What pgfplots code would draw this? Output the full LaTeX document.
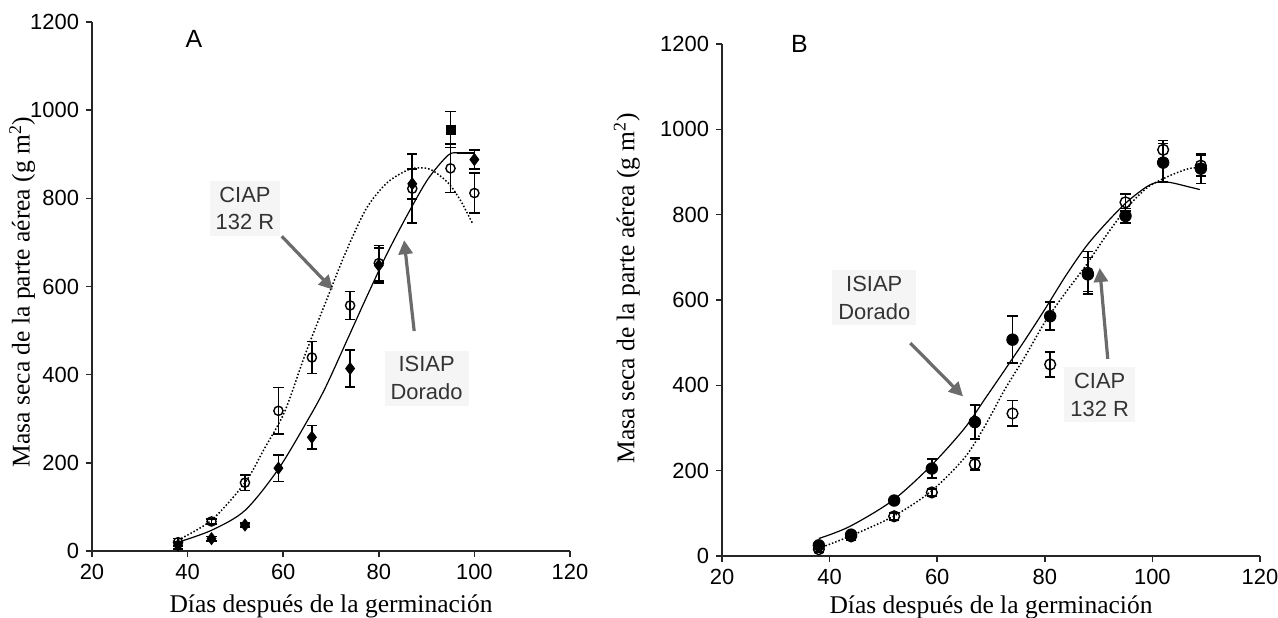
\documentclass[border=0pt]{standalone}
\usepackage{fontspec}
\setmainfont{Liberation Serif}
\setsansfont{Liberation Sans}
\usepackage{pgfplots}
\pgfplotsset{compat=1.18}
\usetikzlibrary{arrows.meta}

\definecolor{arrowgray}{gray}{0.42}
\definecolor{notegray}{gray}{0.2}

\tikzset{
  note/.style={font=\sffamily\fontsize{11}{13.8}\selectfont, text=notegray,
    align=center, fill=black!4, inner sep=3bp},
  pointer/.style={arrowgray, line width=1.6bp, -{Triangle[length=7bp,width=7bp]}},
}

\pgfplotsset{
  panel/.style={
    scale only axis,
    axis lines*=left,
    axis line style={black!85, line width=0.8bp},
    tick style={black!85, line width=0.8bp},
    tick align=outside,
    major tick length=3bp,
    xmin=20, xmax=120, ymin=0, ymax=1200,
    xtick={20,40,...,120},
    ytick={0,200,...,1200},
    /pgf/number format/1000 sep={},
    /pgf/number format/assume math mode=true,
    tick label style={font=\sffamily\fontsize{11}{13}\selectfont},
    label style={font=\fontsize{12.8}{15}\selectfont},
    xlabel={Días después de la germinación},
    ylabel={Masa seca de la parte aérea (g m\textsuperscript{2})},
    clip=false,
  },
  fitline/.style={black, line width=0.6bp, smooth, no markers},
  fitdot/.style={black, line width=0.75bp, densely dotted, smooth, no markers},
  ebars/.style={
    error bars/y dir=both, error bars/y explicit,
    error bars/error bar style={line width=0.8bp, black},
    error bars/error mark options={rotate=90, mark size=2.6bp, line width=0.8bp, black}},
  filledpts/.style={only marks, mark=*, mark size=2.6bp, black, ebars},
  openpts/.style={only marks, mark=o, mark size=2.3bp, black,
    mark options={fill=white, line width=0.7bp}, ebars},
}

\begin{document}
\begin{tikzpicture}
\path[use as bounding box] (0,0) rectangle (639bp,-309bp);

% ---------------- panel A ----------------
\begin{axis}[panel,
  at={(46bp,-275.5bp)}, anchor=south west,
  width=239bp, height=264.5bp,
  ylabel style={at={(axis description cs:-0.146,0.49)}, anchor=center},
  xlabel style={at={(axis description cs:0.5,-0.104)}, anchor=center},
]
  \node[note] at (axis cs:52,777) {CIAP\\132 R};
  \node[note] at (axis cs:90,392) {ISIAP\\Dorado};
  \draw[pointer] (axis cs:59.7,714) -- (axis cs:70.4,593);
  \draw[pointer] (axis cs:87.4,499) -- (axis cs:85.3,705);
  \node[font=\sffamily\fontsize{12.5}{14}\selectfont] at (axis cs:41.3,1161) {A};

  % ISIAP Dorado fit
  \addplot[fitline] coordinates {
    (38,20) (45,47) (52,92) (59,186) (65.4,302) (68.8,370) (73.1,472)
    (77.4,575) (81.7,674) (86,763) (90.3,844) (94.5,898) (96.4,903)
  };
  \addplot[black, line width=0.6bp, no markers] coordinates {(96.4,903) (100,903)};
  % CIAP 132 R fit
  \addplot[fitdot] coordinates {
    (38,25) (45,70) (52,155) (56,231) (60.3,316) (64.6,446) (68.8,562)
    (73.1,678) (77.4,777) (81.7,835) (86,864) (88.6,869) (91.1,864)
    (94.5,835) (97.1,795) (99.7,741)
  };
  % ISIAP Dorado data
  \addplot[filledpts, mark=diamond*, mark size=3bp] coordinates {
    (38,13) +- (0,8)
    (45,28) +- (0,5)
    (52,59) +- (0,5)
    (59,188) +- (0,30)
    (66,258) +- (0,27)
    (74,414) +- (0,42)
    (80,648) +- (0,40)
    (87,833) +- (0,34)
    (100,888) +- (0,22)
  };
  \addplot[filledpts, mark=square*, mark size=2.3bp] coordinates {
    (95,956) +- (0,41)
  };
  % CIAP 132 R data
  \addplot[openpts] coordinates {
    (38,20) +- (0,8)
    (45,67) +- (0,6)
    (52,155) +- (0,18)
    (59,318) +- (0,53)
    (66,439) +- (0,36)
    (74,557) +- (0,32)
    (80,653) +- (0,40)
    (87,822) +- (0,78)
    (95,868) +- (0,55)
    (100,812) +- (0,45)
  };
\end{axis}

% ---------------- panel B ----------------
\begin{axis}[panel,
  at={(361bp,-278bp)}, anchor=south west,
  width=269bp, height=256bp,
  ylabel style={at={(axis description cs:-0.177,0.523)}, anchor=center},
  xlabel style={at={(axis description cs:0.5,-0.1)}, anchor=center},
]
  \node[note] at (axis cs:48.3,605) {ISIAP\\Dorado};
  \node[note] at (axis cs:90.2,378) {CIAP\\132 R};
  \draw[pointer] (axis cs:55,499) -- (axis cs:64.8,374);
  \draw[pointer] (axis cs:91.7,462) -- (axis cs:90.2,675);
  \node[font=\sffamily\fontsize{12.5}{14}\selectfont] at (axis cs:34.4,1200) {B};

  % ISIAP Dorado fit
  \addplot[fitline] coordinates {
    (38,41) (43.7,69) (51.7,130) (58.8,211) (65,298) (68.75,366)
    (72.5,435) (76.3,506) (80.1,580) (83.9,657) (87.7,726) (91.4,780)
    (95.2,829) (99,866) (101.3,877) (103.5,875) (106.5,866) (108.8,859)
  };
  % CIAP 132 R fit
  \addplot[fitdot] coordinates {
    (38,18) (43.7,46) (51.7,92) (58.8,151) (65,229) (68.75,302)
    (72.5,389) (76.3,467) (80.1,550) (83.9,618) (87.7,682) (91.4,751)
    (95.2,815) (99,863) (102.8,889) (106.5,907) (108.8,911)
  };
  % ISIAP Dorado data
  \addplot[filledpts, mark size=2.9bp] coordinates {
    (38,25) +- (0,6)
    (44,50) +- (0,6)
    (52,130) +- (0,6)
    (59,205) +- (0,22)
    (67,314) +- (0,40)
    (74,507) +- (0,55)
    (81,562) +- (0,33)
    (88,660) +- (0,40)
    (95,797) +- (0,17)
    (102,922) +- (0,45)
    (109,908) +- (0,35)
  };
  % CIAP 132 R data
  \addplot[openpts, mark size=2.7bp] coordinates {
    (38,16) +- (0,6)
    (44,46) +- (0,8)
    (52,93) +- (0,8)
    (59,149) +- (0,8)
    (67,215) +- (0,14)
    (74,334) +- (0,30)
    (81,449) +- (0,29)
    (88,664) +- (0,50)
    (95,829) +- (0,20)
    (102,952) +- (0,22)
    (109,915) +- (0,25)
  };
\end{axis}
\end{tikzpicture}
\end{document}
